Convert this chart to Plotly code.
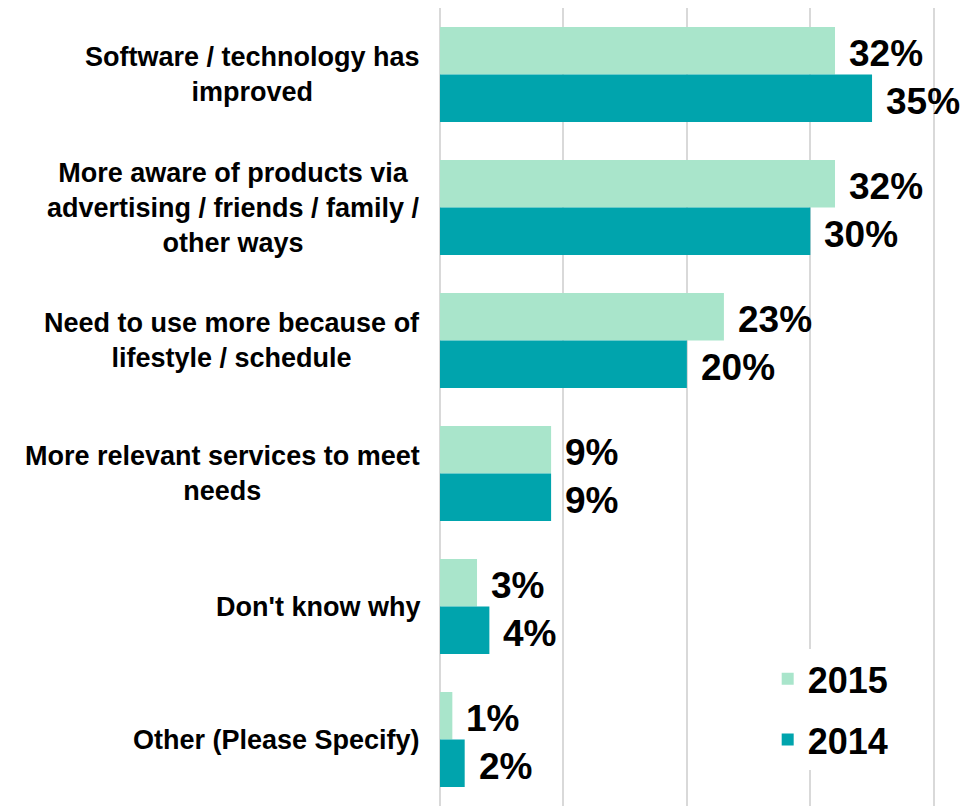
import plotly.graph_objects as go

# Reasons given for increased usage, 2015 vs 2014 (percent of respondents)
categories = [
    "Software / technology has<br>improved",
    "More aware of products via<br>advertising / friends / family /<br>other ways",
    "Need to use more because of<br>lifestyle / schedule",
    "More relevant services to meet<br>needs",
    "Don't know why",
    "Other (Please Specify)",
]
values_2015 = [32, 32, 23, 9, 3, 1]
values_2014 = [35, 30, 20, 9, 4, 2]

color_2015 = "#A9E5CB"
color_2014 = "#00A4AD"
font_family = "Liberation Sans, Arial, sans-serif"

fig = go.Figure()
fig.add_trace(go.Bar(
    name="2015", y=categories, x=values_2015, orientation="h",
    marker=dict(color=color_2015, line=dict(width=0)), legendgroup="a",
))
fig.add_trace(go.Bar(
    name="2014", y=categories, x=values_2014, orientation="h",
    marker=dict(color=color_2014, line=dict(width=0)), legendgroup="b",
))

annotations = []
# category labels, centred lines, right-aligned against the axis
for cat in categories:
    annotations.append(dict(
        x=0, xref="paper", y=cat, yref="y", xanchor="right", yanchor="middle",
        xshift=-18, align="center", showarrow=False, text=f"<b>{cat}</b>",
        font=dict(family=font_family, size=27, color="#000000"),
    ))
# value labels at the end of each bar
for vals, shift in ((values_2015, 24), (values_2014, -24)):
    for cat, v in zip(categories, vals):
        annotations.append(dict(
            x=v, xref="x", y=cat, yref="y", xanchor="left", yanchor="middle",
            xshift=12, yshift=shift - 3, showarrow=False, text=f"<b>{v}%</b>",
            font=dict(family=font_family, size=37, color="#000000"),
        ))

fig.update_layout(
    width=969, height=806,
    margin=dict(l=440, r=34, t=8, b=0),
    paper_bgcolor="#ffffff", plot_bgcolor="#ffffff",
    barmode="group", bargap=0.286, bargroupgap=0,
    font=dict(family=font_family, color="#000000"),
    xaxis=dict(
        range=[0, 40.1], dtick=10, showticklabels=False, ticks="",
        showgrid=True, gridcolor="#D9D9D9", gridwidth=2,
        zeroline=True, zerolinecolor="#D9D9D9", zerolinewidth=2,
        showline=False,
    ),
    yaxis=dict(
        autorange="reversed", showticklabels=False, ticks="",
        showgrid=False, zeroline=False, showline=False,
    ),
    legend=dict(
        x=0.662, y=0.197, xanchor="left", yanchor="top",
        bgcolor="#ffffff", borderwidth=0, tracegroupgap=11,
        font=dict(family=font_family, size=36, color="#000000", weight="bold"),
        traceorder="grouped",
    ),
    annotations=annotations,
    showlegend=True,
)

fig.write_html("out.html")
